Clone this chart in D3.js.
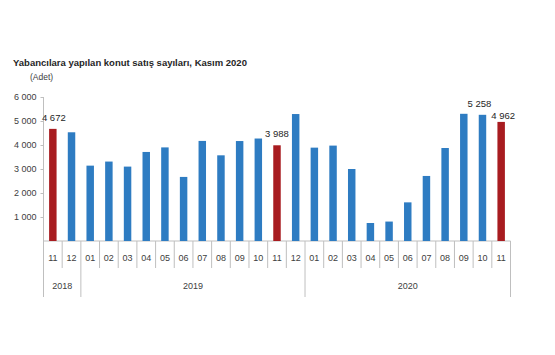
<!DOCTYPE html>
<html>
<head>
<meta charset="utf-8">
<script src="https://cdn.jsdelivr.net/npm/d3@7"></script>
<style>
  html, body { margin: 0; padding: 0; background: #fff; }
  svg { display: block; font-family: "Liberation Sans", Arial, sans-serif; }
</style>
</head>
<body>
<svg id="chart" width="555" height="355"></svg>
<script>
const title = "Yabancılara yapılan konut satış sayıları, Kasım 2020";
const unit = "(Adet)";
const months = ["11","12","01","02","03","04","05","06","07","08","09","10","11","12","01","02","03","04","05","06","07","08","09","10","11"];
const years = ["2018","2018","2019","2019","2019","2019","2019","2019","2019","2019","2019","2019","2019","2019","2020","2020","2020","2020","2020","2020","2020","2020","2020","2020","2020"];
const values = [4672,4530,3140,3310,3100,3710,3900,2670,4170,3570,4165,4270,3988,5290,3890,3975,3000,750,810,1610,2710,3875,5300,5258,4962];
const highlighted = [0,12,24];
const labelled = [0,12,23,24];
const labelTexts = ["4 672","3 988","5 258","4 962"];
const yTicks = [1000,2000,3000,4000,5000,6000];
const yTickLabels = ["1 000","2 000","3 000","4 000","5 000","6 000"];

(function () {
const svg = d3.select("#chart");
const plotLeft = 43.5, plotRight = 510.5, plotTop = 97, base = 241, axisBottom = 297, monthSepBottom = 268;

const idx = d3.range(values.length);
const x = d3.scaleBand().domain(idx).range([plotLeft, plotRight]).paddingInner(0.6).paddingOuter(0.3);
const y = d3.scaleLinear().domain([0, 6000]).range([base, plotTop]);
const step = x.step();

svg.append("text").attr("x", 13).attr("y", 66)
  .attr("font-size", 9.5).attr("font-weight", "bold").attr("fill", "#262626")
  .text(title);
svg.append("text").attr("x", 30).attr("y", 80)
  .attr("font-size", 8.5).attr("fill", "#404040").text(unit);

const axisColor = "#bfbfbf";
const textColor = "#404040";

// y axis
const yAxis = d3.axisLeft(y).tickValues(yTicks).tickSize(3)
  .tickFormat((d, i) => yTickLabels[i]);
const gy = svg.append("g").attr("transform", `translate(${plotLeft},0)`).call(yAxis);
gy.select(".domain").remove();
gy.selectAll(".tick line").attr("stroke", axisColor);
gy.selectAll(".tick text").attr("font-size", 9).attr("fill", textColor)
  .attr("font-family", "Liberation Sans, Arial, sans-serif").attr("x", -7);
svg.append("line").attr("x1", plotLeft).attr("x2", plotLeft).attr("y1", y(6000)).attr("y2", axisBottom)
  .attr("stroke", axisColor);

// x axis baseline
svg.append("line").attr("x1", plotLeft).attr("x2", plotRight).attr("y1", base).attr("y2", base)
  .attr("stroke", axisColor);

// separators between categories
idx.forEach(i => {
  const xs = plotLeft + (i + 1) * step;
  const yearEnd = (i === values.length - 1) || years[i] !== years[i + 1];
  svg.append("line").attr("x1", xs).attr("x2", xs).attr("y1", base)
    .attr("y2", yearEnd ? axisBottom : monthSepBottom).attr("stroke", axisColor);
});

// bars
svg.append("g").selectAll("rect").data(values).join("rect")
  .attr("x", (d, i) => x(i))
  .attr("y", d => y(d))
  .attr("width", x.bandwidth())
  .attr("height", d => base - y(d))
  .attr("fill", (d, i) => highlighted.includes(i) ? "#a81c20" : "#2e7cc2");

// month labels
svg.append("g").selectAll("text").data(months).join("text")
  .attr("x", (d, i) => x(i) + x.bandwidth() / 2)
  .attr("y", 260.5)
  .attr("text-anchor", "middle").attr("font-size", 9).attr("fill", textColor)
  .text(d => d);

// year labels
const yearGroups = d3.groups(idx, i => years[i]);
svg.append("g").selectAll("text").data(yearGroups).join("text")
  .attr("x", d => (plotLeft + d[1][0] * step + plotLeft + (d[1][d[1].length - 1] + 1) * step) / 2)
  .attr("y", 288.5)
  .attr("text-anchor", "middle").attr("font-size", 9).attr("fill", textColor)
  .text(d => d[0]);

// data labels
const labelLift = i => (i === 24 ? 2.5 : 8);
const labelShift = i => (i === 23 ? -3 : (i === 24 ? 2 : (i === 0 ? 1 : 0)));
svg.append("g").selectAll("text").data(labelled).join("text")
  .attr("x", i => x(i) + x.bandwidth() / 2 + labelShift(i))
  .attr("y", i => y(values[i]) - labelLift(i))
  .attr("text-anchor", "middle").attr("font-size", 9.5).attr("fill", "#262626")
  .text((i, k) => labelTexts[k]);
})();
</script>
</body>
</html>
